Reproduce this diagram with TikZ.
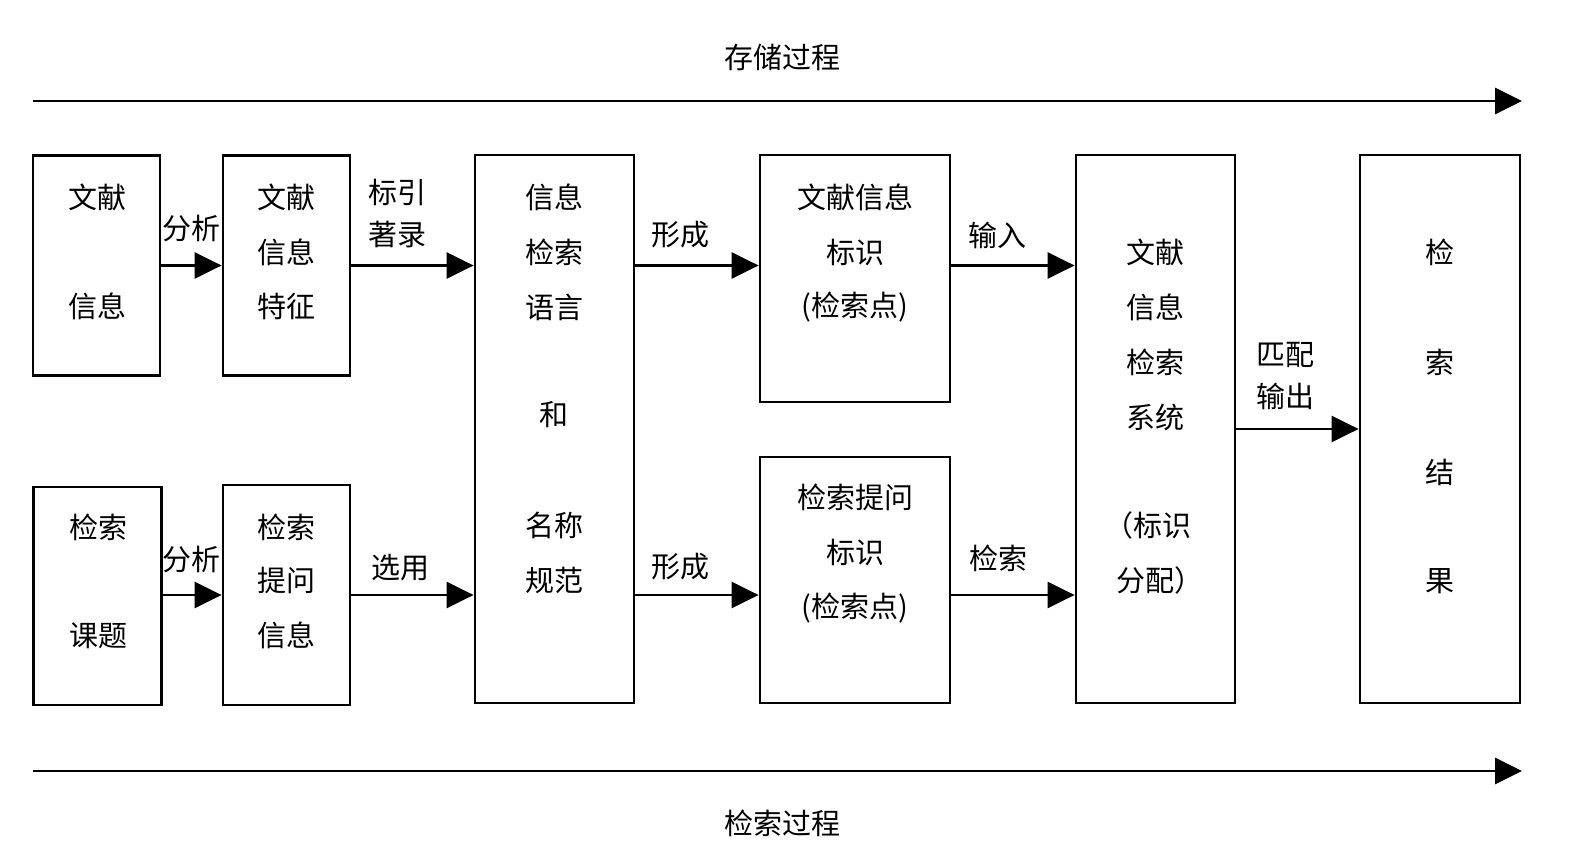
\documentclass[tikz,border=0pt]{standalone}
\usepackage{fontspec}
\newfontfamily\cjk{Noto Sans CJK SC}
\usetikzlibrary{arrows.meta}
\begin{document}
\begin{tikzpicture}[x=1pt,y=-1pt,
  box/.style={draw,line width=2.8pt,inner sep=0pt,minimum width=#1},
  txt/.style={font=\cjk\fontsize{29}{34}\selectfont,inner sep=0pt,anchor=center},
  arr/.style={line width=2.8pt,-{Triangle[length=27pt,width=26pt]}}]
\useasboundingbox (0,0) rectangle (1571,858);
% boxes
\node[box=127,minimum height=220] (b1) at (96.5,265.5) {};
\node[box=127,minimum height=220] (b2) at (286.5,265.5) {};
\node[box=128,minimum height=218] (b4) at (97.5,596) {};
\node[box=127,minimum height=220] (b5) at (286.5,595) {};
\node[box=159,minimum height=548] (b3) at (554.5,429) {};
\node[box=190,minimum height=247] (b6) at (855,278.5) {};
\node[box=190,minimum height=246] (b7) at (855,580) {};
\node[box=159,minimum height=548] (b8) at (1155.5,429) {};
\node[box=160,minimum height=548] (b9) at (1440,429) {};
% box texts
\node[txt] (t1a) at (97,197) {文献};
\node[txt] (t1b) at (97,306) {信息};
\node[txt] (t2a) at (286,197) {文献};
\node[txt] (t2b) at (286,252) {信息};
\node[txt] (t2c) at (286,306) {特征};
\node[txt] (t4a) at (98,527) {检索};
\node[txt] (t4b) at (98,636) {课题};
\node[txt] (t5a) at (286,527) {检索};
\node[txt] (t5b) at (286,580) {提问};
\node[txt] (t5c) at (286,635) {信息};
\node[txt] (t3a) at (554,197) {信息};
\node[txt] (t3b) at (554,252) {检索};
\node[txt] (t3c) at (554,307) {语言};
\node[txt] (t3d) at (554,415) {和};
\node[txt] (t3e) at (554,525) {名称};
\node[txt] (t3f) at (554,580) {规范};
\node[txt] (t6a) at (855,197) {文献信息};
\node[txt] (t6b) at (855,252) {标识};
\node[txt] (t6c) at (855,307) {(检索点)};
\node[txt] (t7a) at (855,497) {检索提问};
\node[txt] (t7b) at (855,552) {标识};
\node[txt] (t7c) at (855,608) {(检索点)};
\node[txt] (t8a) at (1155,252) {文献};
\node[txt] (t8b) at (1155,307) {信息};
\node[txt] (t8c) at (1155,362) {检索};
\node[txt] (t8d) at (1155,417) {系统};
\node[txt] (t8e) at (1148,525) {（标识};
\node[txt] (t8f) at (1160,580) {分配）};
\node[txt] (t9a) at (1440,252) {检};
\node[txt] (t9b) at (1440,362) {索};
\node[txt] (t9c) at (1440,472) {结};
\node[txt] (t9d) at (1440,581) {果};
% connector labels
\node[txt] (l1) at (191,229) {分析};
\node[txt] (l2) at (191,560) {分析};
\node[txt] (l3a) at (397,192) {标引};
\node[txt] (l3b) at (397,235) {著录};
\node[txt] (l4) at (400,568) {选用};
\node[txt] (l5) at (680,235) {形成};
\node[txt] (l6) at (680,567) {形成};
\node[txt] (l7) at (997,235) {输入};
\node[txt] (l8) at (998,558) {检索};
\node[txt] (l9a) at (1285,355) {匹配};
\node[txt] (l9b) at (1285,396) {输出};
\node[txt] (title1) at (782,57) {存储过程};
\node[txt] (title2) at (782,823) {检索过程};
% connectors
\draw[arr] (b1.east) -- (b2.west);
\draw[arr] (b4.east |- b5.west) -- (b5.west);
\draw[arr] (b2.east) -- (b2.east -| b3.west);
\draw[arr] (b5.east) -- (b5.east -| b3.west);
\coordinate (c5) at (b2.east -| b3.east);
\draw[arr] (c5) -- (c5 -| b6.west);
\draw[arr] (b5.east -| b3.east) -- (b5.east -| b7.west);
\draw[arr] (c5 -| b6.east) -- (c5 -| b8.west);
\draw[arr] (b5.east -| b7.east) -- (b5.east -| b8.west);
\draw[arr] (b8.east) -- (b9.west);
% process arrows
\coordinate (s1) at (33,101);
\coordinate (e1) at (1522,101);
\coordinate (s2) at (33,771);
\coordinate (e2) at (1522,771);
\draw[arr] (s1) -- (e1);
\draw[arr] (s2) -- (e2);
\end{tikzpicture}
\end{document}
